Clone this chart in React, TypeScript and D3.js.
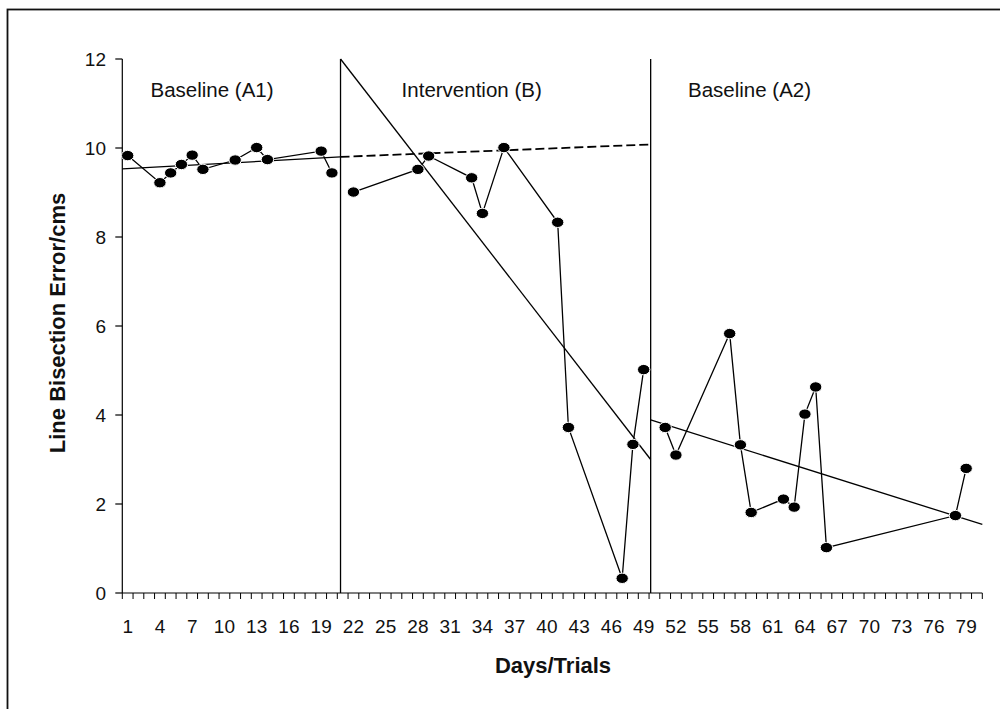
import React from "react";
import * as d3 from "d3";

// Line bisection error across the three study phases
const baselineA1Days = [1, 4, 5, 6, 7, 8, 11, 13, 14, 19, 20];
const baselineA1Values = [9.83, 9.22, 9.44, 9.63, 9.84, 9.52, 9.73, 10.01, 9.74, 9.93, 9.44];

const interventionDays = [22, 28, 29, 33, 34, 36, 41, 42, 47, 48, 49];
const interventionValues = [9.01, 9.52, 9.82, 9.33, 8.53, 10.01, 8.33, 3.72, 0.33, 3.34, 5.02];

const baselineA2Days = [51, 52, 57, 58, 59, 62, 63, 64, 65, 66, 78, 79];
const baselineA2Values = [3.72, 3.1, 5.83, 3.33, 1.81, 2.11, 1.93, 4.02, 4.63, 1.02, 1.74, 2.8];

// Phase change lines (in day units)
const phaseBreaks = [20.8, 49.65];

// Phase titles and the day their text is centred on
const phaseNames = ["Baseline (A1)", "Intervention (B)", "Baseline (A2)"];
const phaseNameDays = [8.85, 33.0, 58.85];

// Trend lines: [startDay, startValue, endDay, endValue]
const trendA1 = [0.5, 9.53, 20.8, 9.8];
const trendA1Projection = [20.8, 9.8, 49.65, 10.08];
const trendB = [20.8, 12.0, 49.65, 3.0];
const trendA2 = [49.65, 3.89, 80.5, 1.54];

const xTickLabels = d3.range(1, 80, 3);
const yTickValues = [0, 2, 4, 6, 8, 10, 12];

const W = 1000;
const H = 709;
const FONT = "'Liberation Sans', Arial, Helvetica, sans-serif";

export default function App() {
  const x = d3.scaleLinear().domain([0.5, 80.5]).range([122.3, 982.3]);
  const y = d3.scaleLinear().domain([0, 12]).range([593, 59]);

  const line = d3
    .line<[number, number]>()
    .x((d) => x(d[0]))
    .y((d) => y(d[1]));

  const series = [
    d3.zip(baselineA1Days, baselineA1Values) as [number, number][],
    d3.zip(interventionDays, interventionValues) as [number, number][],
    d3.zip(baselineA2Days, baselineA2Values) as [number, number][],
  ];

  const seg = (t: number[]) =>
    line([
      [t[0], t[1]],
      [t[2], t[3]],
    ]) as string;

  const x0 = x.range()[0];
  const x1 = x.range()[1];
  const yBase = y(0);

  const boundaryTicks = d3.range(0, 81).map((i) => i + 0.5);

  return (
    <svg
      width={W}
      height={H}
      style={{ position: "absolute", left: 0, top: 0, background: "#fff" }}
      fontFamily={FONT}
    >
      <rect x={0} y={0} width={W} height={H} fill="#fff" />
      {/* chart frame, running past the right and bottom edges */}
      <rect x={7.5} y={9.5} width={1100} height={800} fill="none" stroke="#111" strokeWidth={1.8} />

      {/* y axis */}
      <line x1={x0} x2={x0} y1={y(12)} y2={yBase} stroke="#000" strokeWidth={1.2} />
      {yTickValues.map((v) => (
        <g key={"yt" + v}>
          <line x1={x0 - 7} x2={x0} y1={y(v)} y2={y(v)} stroke="#000" strokeWidth={1.2} />
          <text x={106} y={y(v)} dy="0.36em" textAnchor="end" fontSize={19} fill="#111">
            {v}
          </text>
        </g>
      ))}

      {/* x axis */}
      <line x1={x0} x2={x1} y1={yBase} y2={yBase} stroke="#000" strokeWidth={1.2} />
      {boundaryTicks.map((b) => (
        <line key={"xt" + b} x1={x(b)} x2={x(b)} y1={yBase} y2={yBase + 6} stroke="#000" strokeWidth={1} />
      ))}
      {xTickLabels.map((d) => (
        <text key={"xl" + d} x={x(d)} y={633} textAnchor="middle" fontSize={19} fill="#111">
          {d}
        </text>
      ))}

      {/* axis titles */}
      <text x={553} y={673} textAnchor="middle" fontSize={22} fontWeight="bold" fill="#111">
        Days/Trials
      </text>
      <text
        transform={`translate(65,323) rotate(-90)`}
        textAnchor="middle"
        fontSize={22}
        fontWeight="bold"
        fill="#111"
      >
        Line Bisection Error/cms
      </text>

      {/* phase change lines */}
      {phaseBreaks.map((b) => (
        <line key={"pb" + b} x1={x(b)} x2={x(b)} y1={y(12)} y2={yBase} stroke="#000" strokeWidth={1.3} />
      ))}

      {/* phase titles */}
      {phaseNames.map((name, i) => (
        <text key={name} x={x(phaseNameDays[i])} y={96.5} textAnchor="middle" fontSize={20.5} fill="#111">
          {name}
        </text>
      ))}

      {/* trend lines */}
      <path d={seg(trendA1)} stroke="#000" strokeWidth={1.3} fill="none" />
      <path d={seg(trendA1Projection)} stroke="#000" strokeWidth={1.8} strokeDasharray="9,4" fill="none" />
      <path d={seg(trendB)} stroke="#000" strokeWidth={1.3} fill="none" />
      <path d={seg(trendA2)} stroke="#000" strokeWidth={1.3} fill="none" />

      {/* data series */}
      {series.map((s, i) => (
        <g key={"s" + i}>
          <path d={line(s) as string} stroke="#000" strokeWidth={1.3} fill="none" />
          {s.map((p) => (
            <ellipse
              key={"p" + p[0]}
              cx={x(p[0])}
              cy={y(p[1])}
              rx={6.2}
              ry={5.2}
              fill="#000"
              stroke="#fff"
              strokeWidth={1}
            />
          ))}
        </g>
      ))}
    </svg>
  );
}
